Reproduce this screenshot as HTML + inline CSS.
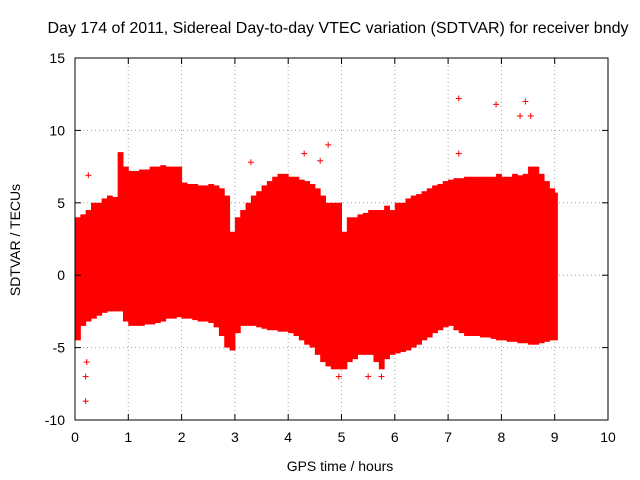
<!DOCTYPE html>
<html><head><meta charset="utf-8"><style>
html,body{margin:0;padding:0;background:#fff;}
svg{display:block;font-family:"Liberation Sans",sans-serif;}
</style></head><body>
<svg id="chart" width="640" height="480">
<text x="338" y="33" font-size="16" text-anchor="middle">Day 174 of 2011, Sidereal Day-to-day VTEC variation (SDTVAR) for receiver bndy</text>
<text x="340" y="471" font-size="14" text-anchor="middle">GPS time / hours</text>
<text x="20" y="240" font-size="14" text-anchor="middle" transform="rotate(-90 20 240)">SDTVAR / TECUs</text>
<g id="grid"></g><g id="marks"></g><g id="axes"></g>
</svg>
<script>
const times=[0,0.1,0.2,0.3,0.4,0.5,0.6,0.7,0.8,0.9,1.0,1.1,1.2,1.3,1.4,1.5,1.6,1.7,1.8,1.9,2.0,2.1,2.2,2.3,2.4,2.5,2.6,2.7,2.8,2.9,3.0,3.1,3.2,3.3,3.4,3.5,3.6,3.7,3.8,3.9,4.0,4.1,4.2,4.3,4.4,4.5,4.6,4.7,4.8,4.9,5.0,5.1,5.2,5.3,5.4,5.5,5.6,5.7,5.8,5.9,6.0,6.1,6.2,6.3,6.4,6.5,6.6,6.7,6.8,6.9,7.0,7.1,7.2,7.3,7.4,7.5,7.6,7.7,7.8,7.9,8.0,8.1,8.2,8.3,8.4,8.5,8.6,8.7,8.8,8.9,9.0];
const upper=[4.0,4.2,4.5,5.0,5.0,5.3,5.5,5.4,8.5,7.5,7.2,7.2,7.3,7.3,7.5,7.5,7.6,7.5,7.5,7.5,6.4,6.3,6.3,6.2,6.2,6.3,6.2,6.0,5.5,3.0,4.0,4.5,5.0,5.5,5.8,6.2,6.5,6.8,7.0,7.0,6.8,6.8,6.6,6.5,6.3,6.0,5.5,5.0,5.0,5.0,3.0,4.0,4.0,4.2,4.3,4.5,4.5,4.5,4.8,4.5,5.0,5.0,5.3,5.5,5.6,5.8,6.0,6.2,6.3,6.5,6.6,6.7,6.7,6.8,6.8,6.8,6.8,6.8,6.8,7.0,6.8,6.8,7.0,6.9,7.0,7.5,7.5,7.0,6.5,6.0,5.7];
const lower=[-4.5,-3.5,-3.2,-3.0,-2.8,-2.6,-2.5,-2.5,-2.5,-3.2,-3.5,-3.5,-3.5,-3.4,-3.4,-3.3,-3.2,-3.0,-3.0,-2.9,-3.0,-3.0,-3.1,-3.2,-3.2,-3.3,-3.6,-4.2,-5.0,-5.2,-4.0,-3.5,-3.5,-3.5,-3.6,-3.7,-3.8,-3.8,-3.9,-3.9,-4.0,-4.2,-4.5,-4.8,-5.0,-5.5,-6.0,-6.3,-6.5,-6.5,-6.5,-6.0,-5.8,-5.5,-5.5,-5.5,-6.0,-6.5,-5.8,-5.5,-5.4,-5.3,-5.2,-5.0,-4.8,-4.5,-4.3,-4.0,-3.8,-3.6,-3.5,-3.8,-4.0,-4.2,-4.2,-4.2,-4.3,-4.3,-4.4,-4.5,-4.5,-4.6,-4.6,-4.7,-4.7,-4.8,-4.8,-4.7,-4.6,-4.5,-4.5];
const outlierT=[0.25,0.2,0.2,0.22,4.75,7.2,7.9,8.45,8.35,8.55,3.3,4.3,4.6,4.95,7.2,5.5,5.75];
const outlierV=[6.9,-8.7,-7,-6,9,12.2,11.8,12,11,11,7.8,8.4,7.9,-7,8.4,-7,-7];
const xTicks=[0,1,2,3,4,5,6,7,8,9,10];
const yTicks=[-10,-5,0,5,10,15];
const NS='http://www.w3.org/2000/svg';
const X0=75,X1=608,Y0=420,Y1=58;
const xs=v=>X0+(v-0)/10*(X1-X0);
const ys=v=>Y0-(v+10)/25*(Y0-Y1);
function mk(tag,attrs,parent){const e=document.createElementNS(NS,tag);for(const k in attrs)e.setAttribute(k,attrs[k]);parent.appendChild(e);return e;}
const grid=document.getElementById('grid'),marks=document.getElementById('marks'),axes=document.getElementById('axes');
xTicks.forEach(t=>{
  if(t>0&&t<10){const l=mk('line',{x1:xs(t),x2:xs(t),y1:Y1,y2:Y0,stroke:'#a0a0a0','stroke-dasharray':'1,3'},grid);
  
  }
  const tx=mk('text',{x:xs(t),y:Y0+22,'font-size':14,'text-anchor':'middle'},axes);tx.textContent=t;
  
  
  mk('line',{x1:xs(t),x2:xs(t),y1:Y0,y2:Y0-6,stroke:'#000'},axes);
  mk('line',{x1:xs(t),x2:xs(t),y1:Y1,y2:Y1+6,stroke:'#000'},axes);
});
yTicks.forEach(t=>{
  if(t>-10&&t<15){const l=mk('line',{x1:X0,x2:X1,y1:ys(t),y2:ys(t),stroke:'#a0a0a0','stroke-dasharray':'1,3'},grid);
  
  }
  const tx=mk('text',{x:X0-10,y:ys(t)+5,'font-size':14,'text-anchor':'end'},axes);tx.textContent=t;
  
  
  mk('line',{x1:X0,x2:X0+6,y1:ys(t),y2:ys(t),stroke:'#000'},axes);
  mk('line',{x1:X1,x2:X1-6,y1:ys(t),y2:ys(t),stroke:'#000'},axes);
});
const frame=mk('rect',{x:X0,y:Y1,width:X1-X0,height:Y0-Y1,fill:'none',stroke:'#000'},axes);


times.forEach((t,i)=>{
  const t2=i<times.length-1?times[i+1]:t+0.05;
  const r=mk('rect',{x:xs(t),y:ys(upper[i]),width:xs(t2)-xs(t)+0.5,height:ys(lower[i])-ys(upper[i]),fill:'#ff0000'},marks);
  
  
});
outlierT.forEach((t,i)=>{
  const x=xs(t),y=ys(outlierV[i]);
  const g=mk('g',{stroke:'#ff0000','stroke-width':1},marks);
  
  
  mk('line',{x1:x-3,x2:x+3,y1:y,y2:y},g);mk('line',{x1:x,x2:x,y1:y-3,y2:y+3},g);
});
</script>
</body></html>
